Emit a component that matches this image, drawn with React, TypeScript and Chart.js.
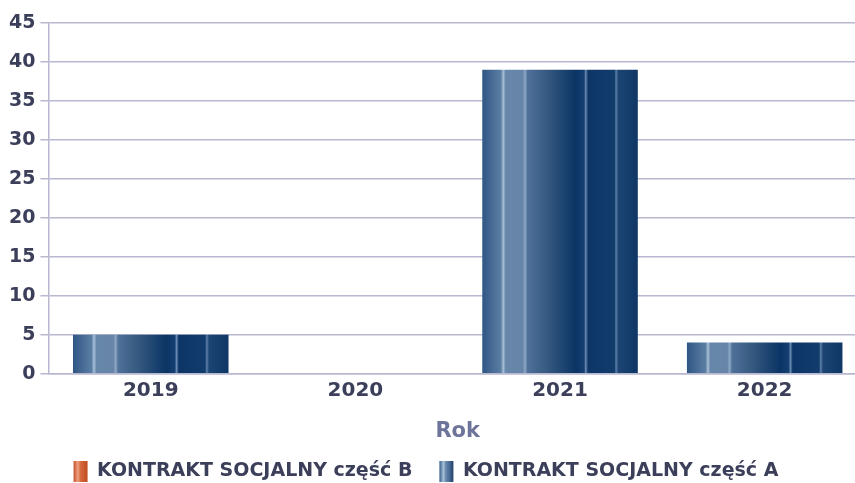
import React, { useEffect, useRef } from "react";
import { Chart, registerables } from "chart.js";

Chart.register(...registerables);

const categories = ["2019", "2020", "2021", "2022"];
const seriesB = [0, 0, 0, 0];
const seriesA = [5, 0, 39, 4];
const yTicks = [0, 5, 10, 15, 20, 25, 30, 35, 40, 45];
const seriesNames = ["KONTRAKT SOCJALNY część B", "KONTRAKT SOCJALNY część A"];
const axisTitle = "Rok";

const BAR_PCT = 0.76;
const FONT = "DejaVu Sans, Liberation Sans, Arial";

const blueStops: [number, string][] = [
  [0, "#2f5685"],
  [0.12, "#5b7ea3"],
  [0.135, "#a9c0d8"],
  [0.15, "#6787aa"],
  [0.26, "#6685a8"],
  [0.275, "#8fa9c6"],
  [0.29, "#4f719a"],
  [0.42, "#35597f"],
  [0.6, "#0b3465"],
  [0.655, "#143f70"],
  [0.665, "#6d8db3"],
  [0.68, "#0d3667"],
  [0.85, "#123c6c"],
  [0.86, "#5e80a8"],
  [0.875, "#1c4473"],
  [1, "#0f3766"],
];
const orangeStops: [number, string][] = [
  [0, "#c4502a"],
  [0.3, "#e6835a"],
  [0.35, "#f0a080"],
  [0.5, "#d0582c"],
  [0.8, "#b8401a"],
  [1, "#c85a30"],
];
const legendBlueStops: [number, string][] = [
  [0, "#3a5f8a"],
  [0.3, "#a9c0d8"],
  [0.45, "#6a8aad"],
  [0.7, "#4a6d98"],
  [1, "#203f6a"],
];
const legendOrangeStops: [number, string][] = [
  [0, "#c4502a"],
  [0.3, "#f0a080"],
  [0.5, "#d66a40"],
  [1, "#c04a20"],
];

function makeGrad(ctx: CanvasRenderingContext2D, x0: number, x1: number, stops: [number, string][]) {
  const g = ctx.createLinearGradient(x0, 0, x1, 0);
  stops.forEach(([o, c]) => g.addColorStop(o, c));
  return g;
}

function barFill(stops: [number, string][]) {
  return (c: any) => {
    const chart = c.chart;
    const xs = chart.scales?.x;
    if (!xs || c.dataIndex === undefined) return stops[0][1];
    const w = (xs.width / categories.length) * BAR_PCT;
    const cx = xs.getPixelForValue(c.dataIndex);
    return makeGrad(chart.ctx, cx - w / 2, cx + w / 2, stops);
  };
}

const legendGradPlugin = {
  id: "legendGrad",
  afterInit(chart: any) {
    const lg = chart.legend;
    if (!lg) return;
    const orig = lg.fit.bind(lg);
    lg.fit = () => {
      orig();
      lg.height -= 9;
    };
  },
  beforeDraw(chart: any) {
    const lg = chart.legend;
    if (!lg || !lg.legendHitBoxes) return;
    lg.legendItems.forEach((item: any, i: number) => {
      const hb = lg.legendHitBoxes[i];
      if (!hb) return;
      const bw = lg.options.labels.boxWidth;
      item.fillStyle = makeGrad(chart.ctx, hb.left, hb.left + bw, i === 0 ? legendOrangeStops : legendBlueStops);
    });
  },
};

export default function App() {
  const ref = useRef<HTMLCanvasElement>(null);
  useEffect(() => {
    document.body.style.margin = "0";
    const canvas = ref.current!;
    const chart = new Chart(canvas, {
      type: "bar",
      data: {
        labels: categories,
        datasets: [
          { label: seriesNames[0], data: seriesB, backgroundColor: barFill(orangeStops) as any, borderWidth: 0 },
          { label: seriesNames[1], data: seriesA, backgroundColor: barFill(blueStops) as any, borderWidth: 0 },
        ],
      },
      options: {
        animation: false,
        responsive: false,
        maintainAspectRatio: false,
        layout: { padding: { top: 23, right: 0, left: 4, bottom: 0 } },
        datasets: { bar: { barPercentage: BAR_PCT, categoryPercentage: 1 } },
        scales: {
          x: {
            stacked: true,
            grid: { display: false, drawTicks: false },
            border: { color: "#b8b8d0", width: 1.5 },
            ticks: { color: "#3c3f5a", font: { family: FONT, size: 20, weight: "bold" }, padding: 5 },
            title: {
              display: true,
              text: axisTitle,
              color: "#6e7399",
              font: { family: FONT, size: 21, weight: "bold" },
              padding: { top: 11, bottom: 9 },
            },
          },
          y: {
            stacked: true,
            min: 0,
            max: 45,
            afterBuildTicks: (axis: any) => {
              axis.ticks = yTicks.map((v) => ({ value: v }));
            },
            grid: { color: "#b8b8d0", lineWidth: 1.5, drawTicks: true, tickLength: 8 },
            border: { color: "#b8b8d0", width: 1.5 },
            ticks: { color: "#3c3f5a", font: { family: FONT, size: 19, weight: "bold" }, padding: 5 },
          },
        },
        plugins: {
          tooltip: { enabled: false },
          legend: {
            position: "bottom",
            labels: {
              color: "#3c3f5a",
              font: { family: FONT, size: 19, weight: "bold" },
              boxWidth: 14,
              boxHeight: 21,
              padding: 8,
              generateLabels: () => [
                { text: seriesNames[0] + "\u2003", fillStyle: "#d0582c", strokeStyle: "transparent", lineWidth: 0, datasetIndex: 0, fontColor: "#3c3f5a" },
                { text: seriesNames[1] + "\u2003", fillStyle: "#1c4473", strokeStyle: "transparent", lineWidth: 0, datasetIndex: 1, fontColor: "#3c3f5a" },
              ] as any,
            },
          },
        },
      },
      plugins: [legendGradPlugin],
    });
    return () => chart.destroy();
  }, []);
  return (
    <div style={{ width: 855, height: 483, overflow: "hidden" }}>
      <canvas ref={ref} width={867} height={483} style={{ display: "block" }} />
    </div>
  );
}
